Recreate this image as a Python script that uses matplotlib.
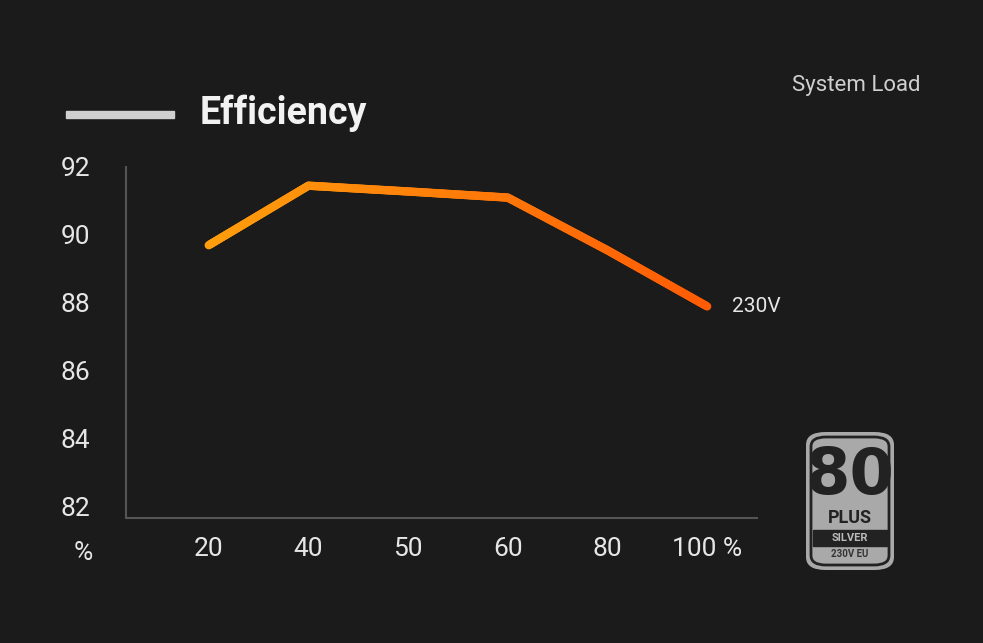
import matplotlib
matplotlib.use('Agg')
import matplotlib.pyplot as plt
from matplotlib.patches import FancyBboxPatch, Rectangle
from matplotlib.collections import LineCollection
import numpy as np

plt.rcParams['font.family'] = 'Roboto'

loads = ['20', '40', '50', '60', '80', '100 %']
efficiency = [89.7, 91.45, 91.28, 91.1, 89.55, 87.9]
yticks = [82, 84, 86, 88, 90, 92]

bg = '#1b1b1b'
fig = plt.figure(figsize=(9.83, 6.43), dpi=100, facecolor=bg)
ax = fig.add_axes([126/983, 1-518/643, (757-126)/983, (518-167)/643])
ax.set_facecolor(bg)

ymin = 82 - 11/34.0
ax.set_ylim(ymin, ymin + (518-167)/34.0)
x = np.arange(len(loads))
ax.set_xlim(-0.83, 5.5)

# gradient line
c0 = np.array([1.0, 0.62, 0.05])
c1 = np.array([1.0, 0.36, 0.02])
xs = np.linspace(0, 5, 301)
ys = np.interp(xs, x, efficiency)
pts = np.column_stack([xs, ys]).reshape(-1, 1, 2)
segs = np.concatenate([pts[:-1], pts[1:]], axis=1)
t = np.linspace(0, 1, len(segs))[:, None]
lc = LineCollection(segs, colors=c0*(1-t)+c1*t, linewidths=6, capstyle='round', joinstyle='round')
ax.add_collection(lc)

for s in ['top', 'right']:
    ax.spines[s].set_visible(False)
for s in ['left', 'bottom']:
    ax.spines[s].set_color('#555555')
    ax.spines[s].set_linewidth(1.5)
ax.set_yticks(yticks)
ax.set_yticklabels([str(v) for v in yticks])
ax.set_xticks(x)
ax.set_xticklabels(loads)
ax.tick_params(length=0, colors='#e6e6e6', labelsize=19)
ax.tick_params(axis='y', pad=26)
ax.tick_params(axis='x', pad=14)
fig.text(83/983, 1-553/643, '%', color='#e6e6e6', fontsize=19, ha='center', va='center')
ax.text(5.25, efficiency[-1], '230V', color='#e6e6e6', fontsize=15, va='center')

fig.text(920/983, 1-85/643, 'System Load', color='#cfcfcf', fontsize=16, ha='right', va='center')
fig.text(200/983, 1-113/643, 'Efficiency', color='#f2f2f2', fontsize=27, fontweight='bold', va='center')
fig.patches.append(Rectangle((66/983, 1-118/643), 108/983, 7/643, transform=fig.transFigure,
                             color='#d0d0d0'))

# 80 plus badge
bx, by, bw, bh = 806/983, 1-570/643, 88/983, 138/643
fig.patches.append(FancyBboxPatch((bx, by), bw, bh, boxstyle='round,pad=0,rounding_size=0.02',
                                  transform=fig.transFigure, fc='#a9a9a9', ec='none'))
fig.patches.append(FancyBboxPatch((bx+5/983, by+5/643), bw-10/983, bh-10/643,
                                  boxstyle='round,pad=0,rounding_size=0.015',
                                  transform=fig.transFigure, fc='none', ec='#222222', lw=2))
fig.patches.append(Rectangle((bx+7/983, by+24/643), bw-14/983, 16/643, transform=fig.transFigure,
                             color='#222222'))
fig.text(bx+bw/2, 1-476/643, '80', color='#222222', fontsize=46, fontweight='bold',
         ha='center', va='center', family='Liberation Sans Narrow')
fig.text(bx+bw/2, 1-518/643, 'PLUS', color='#222222', fontsize=13, fontweight='bold',
         ha='center', va='center')
fig.text(bx+bw/2, 1-538/643, 'SILVER', color='#bbbbbb', fontsize=8, fontweight='bold',
         ha='center', va='center')
fig.text(bx+bw/2, 1-554/643, '230V EU', color='#333333', fontsize=7, fontweight='bold',
         ha='center', va='center')

fig.savefig('out.png', dpi=100, facecolor=bg)
